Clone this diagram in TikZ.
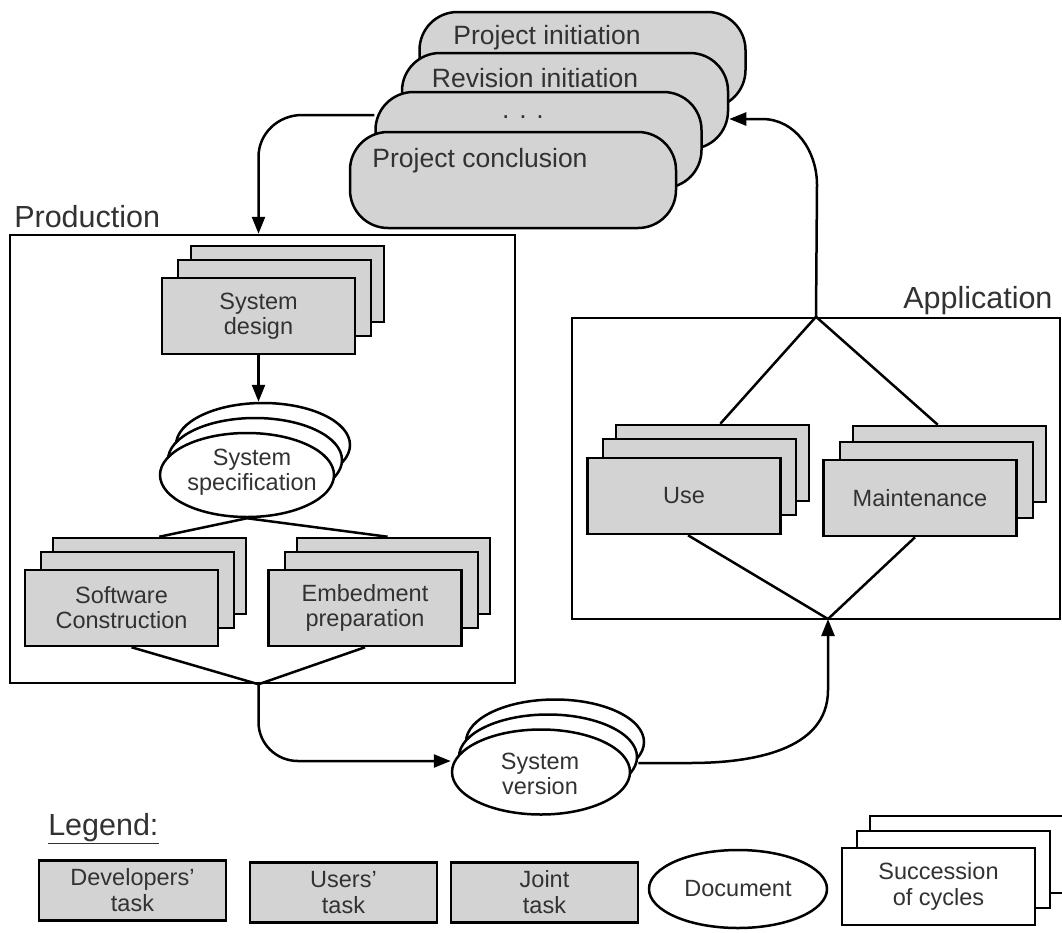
\documentclass[tikz,border=0pt]{standalone}
\usepackage{fontspec}
\setmainfont{Liberation Sans}
\usetikzlibrary{shapes.geometric,arrows.meta,calc}
\definecolor{boxgray}{RGB}{211,211,211}
\definecolor{txtc}{RGB}{50,50,50}
\begin{document}
\begin{tikzpicture}[x=1pt,y=-1pt, line width=2.5pt,
  task/.style={draw, fill=boxgray, minimum width=193pt, minimum height=76pt, inner sep=0pt,
    align=center, text=txtc, font=\fontsize{23.5}{25}\selectfont},
  lgbox/.style={draw, fill=boxgray, minimum width=187pt, minimum height=60pt, inner sep=0pt,
    align=center, text=txtc, font=\fontsize{23.5}{26}\selectfont},
  wbox/.style={draw, fill=white, minimum width=193pt, minimum height=77pt, inner sep=0pt,
    align=center, text=txtc, font=\fontsize{23.5}{26}\selectfont},
  doc/.style={draw, fill=white, ellipse, inner sep=0pt, minimum width=176pt, minimum height=84pt,
    text=txtc, font=\fontsize{23.5}{25}\selectfont},
  phase/.style={draw, fill=boxgray, rounded corners=38pt, minimum width=326pt, minimum height=96pt, inner sep=0pt},
  frame/.style={draw, fill=none, inner sep=0pt},
  big/.style={font=\fontsize{30.5}{34}\selectfont, text=txtc, inner sep=0pt},
  ttl/.style={font=\fontsize{26.5}{30}\selectfont, text=txtc, inner sep=0pt},
  lbl/.style={font=\fontsize{23.5}{24.5}\selectfont, text=txtc, align=center, inner sep=0pt},
  arr/.style={-{Triangle[length=17pt,width=13pt]}},
]
\fill[white] (0,0) rectangle (1062,932);
\useasboundingbox (0,0) rectangle (1062,932);

% ---- top phase stack
\node[phase] (pi) at (582.5,60) {};
\node[phase] (ri) at (565,101) {};
\node[phase] (dd) at (538.5,140) {};
\node[phase] (pc) at (513,180) {};
\node[ttl, anchor=base] (pi-t) at (547,44) {Project initiation};
\node[ttl, anchor=base] (ri-t) at (535,87) {Revision initiation};
\node[ttl, anchor=base] (dd-t) at (523,118) {. . .};
\node[ttl, anchor=base] (pc-t) at (480,167) {Project conclusion};

% ---- frames
\node[frame, minimum width=505pt, minimum height=448pt] (prod) at (262.5,459) {};
\node[big, anchor=base west] (prod-t) at (13,227) {Production};
\node[frame, minimum width=488pt, minimum height=301pt] (app) at (816,468.5) {};
\node[big, anchor=base west] (app-t) at (902,308) {Application};

% ---- production content
\node[task] (sd3) at (287.5,284) {};
\node[task] (sd2) at (274.5,298) {};
\node[task] (sd) at (258.5,316) {System\\design};

\node[doc, minimum width=174pt] (spec3) at (263,445) {};
\node[doc, minimum width=174pt] (spec2) at (255,460) {};
\node[doc, minimum width=174pt] (spec) at (247,475) {};
\node[lbl] (spec-t) at (252,472) {System\\specification};

\node[task] (sc3) at (149.5,576) {};
\node[task] (sc2) at (137.5,590) {};
\node[task] (sc) at (121.5,608) {Software\\Construction};

\node[task] (ep3) at (393.5,576) {};
\node[task] (ep2) at (381.5,590) {};
\node[task] (ep) at (365,608) {Embedment\\preparation};

\coordinate (pj) at (sd |- prod.south);

\draw[arr] (sd.south) -- (sd.south |- spec3.north);
\draw (spec.south) -- ($(sc3.north west)!0.55!(sc3.north east)$);
\draw (spec.south) -- ($(ep3.north west)!0.47!(ep3.north east)$);
\draw ($(sc.south)+(10,0)$) -- (pj);
\draw (ep.south) -- (pj);

% ---- system version
\node[doc, minimum width=178pt, minimum height=85pt] (sv3) at (555,742) {};
\node[doc, minimum width=178pt, minimum height=85pt] (sv2) at (548,757) {};
\node[doc, minimum width=178pt, minimum height=85pt] (sv) at (541,772) {};
\node[lbl] (sv-t) at (540,774) {System\\version};

% ---- application content
\node[task] (use3) at (712.5,463) {};
\node[task] (use2) at (699.5,477) {};
\node[task] (use) at (684,496) {Use};
\node[task] (mt3) at (949.5,464) {};
\node[task] (mt2) at (936.5,480) {};
\node[task] (mt) at (920,498) {Maintenance};

\coordinate (appbot) at (828,619);
\draw (app.north) -- ($(use3.north west)!0.54!(use3.north east)$);
\draw (app.north) -- ($(mt3.north west)!0.44!(mt3.north east)$);
\draw ($(use.south)+(4,0)$) -- (appbot);
\draw ($(mt.south)+(-5,0)$) -- (appbot);

% ---- cycle connectors
\draw[arr] ([yshift=25pt]dd.west) -- (302,115) to[out=180,in=90] (258.5,157) -- (sd |- prod.north);
\draw[arr] (pj) -- (258.5,722) to[out=-90,in=180] (298,761) -- ([yshift=11pt]sv.west);
\draw[arr] ([yshift=-6pt]sv2.east) -- (690,763) to[out=0,in=-90] (828,690) -- (appbot);
\draw[arr] (app.north) -- (817,185) to[out=90,in=0] (762,119) -- ([yshift=-18pt]ri.east);

% ---- legend
\node[big, anchor=base west] (leg) at (47,835) {\underline{Legend:}};
\node[lgbox] (ldev) at (132.5,890.5) {Developers'\\task};
\node[lgbox] (lusr) at (343.5,892.5) {Users'\\task};
\node[lgbox] (ljnt) at (544.5,892.5) {Joint\\task};
\node[doc, minimum width=178pt, minimum height=78pt] (ldoc) at (738,889) {Document};
\node[wbox] (lsc3) at (966.5,854.5) {};
\node[wbox] (lsc2) at (953.5,869.5) {};
\node[wbox] (lsc) at (938.5,886.5) {Succession\\of cycles};
\end{tikzpicture}
\end{document}
